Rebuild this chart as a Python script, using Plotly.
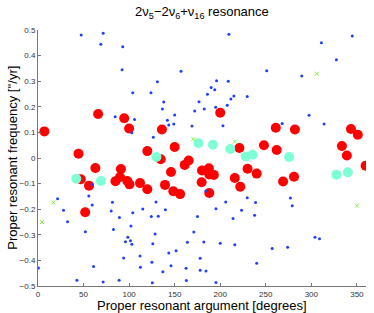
import plotly.graph_objects as go

# Red: large circles
red_arg = [7, 66, 94.6, 100, 136, 44.5, 150, 120, 134.7, 165.4, 161, 63, 91, 146, 180,
           47, 90, 85, 98, 100.4, 112, 56, 120, 139.4, 148.5, 156, 179.6, 51.8,
           200, 261, 282, 343.5, 351, 333.6, 339, 359.6, 221, 248, 262, 230, 240,
           281, 269, 216, 222, 187.6, 188, 193, 188]
red_freq = [0.104, 0.172, 0.155, 0.115, 0.111, 0.017, 0.043, 0.027, -0.005, -0.010, -0.027, -0.039,
            -0.043, -0.055, -0.049, -0.083, -0.074, -0.091, -0.090, -0.103, -0.098, -0.108,
            -0.122, -0.105, -0.130, -0.141, -0.095, -0.212,
            0.177, 0.118, 0.111, 0.113, 0.091, 0.047, 0.010, -0.030, 0.039, 0.050, 0.031,
            -0.042, -0.061, -0.073, -0.092, -0.078, -0.112, -0.040, -0.064, -0.066, -0.137]

# Cyan: large circles
cyan_arg = [42, 69, 130, 176, 192, 211, 228, 235.5, 275.6, 327.5, 340]
cyan_freq = [-0.081, -0.090, 0.004, 0.058, 0.052, 0.035, 0.006, 0.013, 0.004, -0.065, -0.056]

# Green: small crosses
green_arg = [4.4, 16.8, 170.5, 216, 306, 350]
green_freq = [-0.25, -0.174, 0.074, 0.064, 0.329, -0.186]

# Blue: small dots
blue_arg = [47.4, 71.5, 69, 93, 92.3, 157, 131, 104, 124, 138, 136.5, 176.7, 172, 182.5,
            84.7, 106, 150, 142, 143.5, 149, 169, 103, 126.6,
            59.5, 21.5, 55.8, 59.5, 28, 32.4, 52, 0.5, 61, 42.7, 71.5, 89,
            81.7, 80.3, 89.4, 82.8, 102, 98.6, 101.5, 96, 103, 94, 112, 112.4,
            104, 115, 124.4, 129.6, 132, 139.8, 128.5, 126, 125, 137, 146, 143.5,
            151.5, 125.5, 164, 171, 175, 182, 178, 162.5, 178, 162.8, 184.4, 195.3,
            184.4, 206, 195.3, 229.6, 238.8, 223.4, 214, 237.7, 277, 279, 200, 216,
            257, 274, 304, 309, 240,
            209.5, 345, 311, 327.5, 251, 289.5, 196, 208.8, 190, 194, 186, 215, 211.7,
            229.6, 207.7, 195, 203, 297.5, 268, 314]
blue_freq = [0.480, 0.487, 0.444, 0.435, 0.345, 0.339, 0.298, 0.255, 0.255, 0.219, 0.191, 0.220,
             0.184, 0.191, 0.161, 0.150, 0.168, 0.147, 0.129, 0.133, 0.125, 0.099, 0.081,
             -0.103, -0.159, -0.148, -0.184, -0.204, -0.249, -0.288, -0.430, -0.424, -0.478,
             -0.484, -0.478,
             -0.173, -0.207, -0.232, -0.279, -0.266, -0.310, -0.323, -0.327, -0.337, -0.391,
             -0.383, -0.427,
             -0.214, -0.199, -0.229, -0.172, -0.228, -0.202, -0.297, -0.335, -0.407, -0.444,
             -0.421, -0.371, -0.362, -0.487, -0.329, -0.289, -0.229, -0.328, -0.392, -0.431,
             -0.438, -0.479, -0.441, -0.486,
             -0.129, -0.172, -0.198, -0.155, -0.174, -0.204, -0.236, -0.224, -0.156, -0.187,
             -0.333, -0.339, -0.354, -0.349, -0.310, -0.315, -0.411,
             0.483, 0.477, 0.450, 0.384, 0.341, 0.320, 0.302, 0.300, 0.275, 0.267, 0.249,
             0.242, 0.230, 0.240, 0.206, 0.198, 0.126, 0.167, 0.135, 0.133]

x_ticks = [0, 50, 100, 150, 200, 250, 300, 350]
y_ticks = [-0.5, -0.4, -0.3, -0.2, -0.1, 0, 0.1, 0.2, 0.3, 0.4, 0.5]

fig = go.Figure()
fig.add_trace(go.Scatter(x=red_arg, y=red_freq, mode="markers",
                         marker=dict(color="#ff0000", size=10, line=dict(width=0))))
fig.add_trace(go.Scatter(x=cyan_arg, y=cyan_freq, mode="markers",
                         marker=dict(color="#7fffd4", size=10, line=dict(width=0))))
fig.add_trace(go.Scatter(x=blue_arg, y=blue_freq, mode="markers",
                         marker=dict(color="#2040ff", size=3, line=dict(width=0))))
fig.add_trace(go.Scatter(x=green_arg, y=green_freq, mode="markers",
                         marker=dict(color="#80f040", size=4, symbol="x-thin",
                                     line=dict(width=1, color="#80f040"))))

axis_common = dict(showgrid=False, zeroline=False, showline=True, linecolor="#777777",
                   linewidth=1, ticks="inside", ticklen=3, tickcolor="#777777",
                   tickfont=dict(size=8, color="#333333", family="Liberation Sans, Arial"),
                   mirror=False, automargin=False)

fig.update_layout(
    width=374, height=313,
    margin=dict(l=38, r=8, t=30, b=27),
    paper_bgcolor="white", plot_bgcolor="white",
    showlegend=False,
    font=dict(family="Liberation Sans, Arial", color="#000000"),
    title=dict(text="2ν<sub>5</sub>−2ν<sub>6</sub>+ν<sub>16</sub> resonance",
               x=0.54, xanchor="center", y=0.978, yanchor="top",
               font=dict(size=13, color="#000000")),
    xaxis=dict(range=[0, 360], tickvals=x_ticks, ticklabelstandoff=0, **axis_common),
    yaxis=dict(range=[-0.5, 0.5], tickvals=y_ticks, ticklabelstandoff=0,
               ticktext=[("%g" % v).replace("-", "−") if v != 0 else "0" for v in y_ticks],
               **axis_common),
    annotations=[
        dict(text="Proper resonant argument [degrees]", xref="paper", yref="paper",
             x=0.5, y=-0.04, xanchor="center", yanchor="top", showarrow=False,
             font=dict(size=13, color="#000000")),
        dict(text="Proper resonant frequency [''/yr]", xref="paper", yref="paper",
             x=-0.08, y=0.5, xanchor="center", yanchor="middle", textangle=-90,
             showarrow=False, font=dict(size=13, color="#000000")),
    ],
)

fig.write_html("out.html", config={"displayModeBar": False},
               post_script="document.body.style.margin='0px';document.body.style.overflow='hidden';")
